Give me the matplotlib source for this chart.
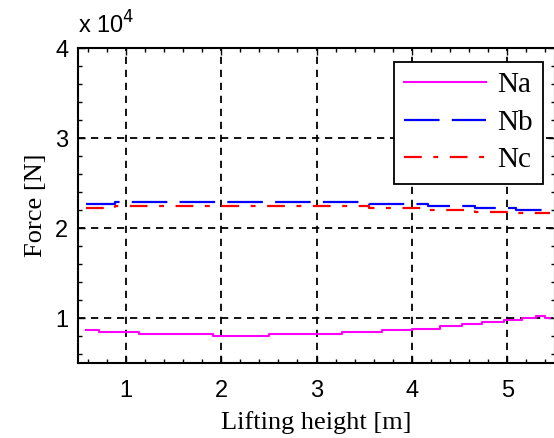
import numpy as np
import matplotlib.pyplot as plt
from matplotlib.ticker import MultipleLocator, FuncFormatter

## step data (force in N)
x_na = [0.58, 0.72, 1.14, 1.91, 2.50, 3.27, 3.69, 4.00, 4.29, 4.53, 4.74, 4.97, 5.15, 5.30, 5.39, 5.45]
na = [8670, 8450, 8200, 8000, 8200, 8400, 8670, 8800, 9080, 9300, 9550, 9780, 10000, 10200, 10000, 10000]

x_nb = [0.58, 0.89, 3.55, 4.17, 4.66, 5.09, 5.45]
nb = [22640, 22930, 22640, 22450, 22200, 22000, 22000]

x_nc = [0.58, 0.89, 3.55, 4.10, 4.66, 5.09, 5.45]
nc = [22270, 22450, 22200, 22000, 21800, 21650, 21650]

labels = ['Na', 'Nb', 'Nc']

plt.rcParams['font.family'] = ['Liberation Sans', 'DejaVu Sans']

fig = plt.figure(figsize=(5.54, 4.38), dpi=100)
ax = fig.add_axes([0.1408, 0.1712, 0.861, 0.7192])

ax.plot(x_na, na, color='#ff00ff', lw=1.5, drawstyle='steps-post', label=labels[0])
ax.plot(x_nb, nb, color='#0000ff', lw=1.6, drawstyle='steps-post', label=labels[1],
        dashes=(16, 5.5))
ax.plot(x_nc, nc, color='#ff0000', lw=1.6, drawstyle='steps-post', label=labels[2],
        dashes=(8, 5.2, 2.2, 5.2))

ax.set_xlim(0.5, 5.5)
ax.set_ylim(5000, 40000)
ax.xaxis.set_major_locator(MultipleLocator(1))
ax.xaxis.set_minor_locator(MultipleLocator(0.2))
ax.yaxis.set_major_locator(MultipleLocator(10000))
ax.yaxis.set_minor_locator(MultipleLocator(2000))
ax.yaxis.set_major_formatter(FuncFormatter(lambda v, p: '%d' % round(v / 1e4)))

ax.tick_params(which='both', direction='in', top=True, right=True, labelsize=17)
ax.tick_params(which='major', length=5, width=1)
ax.tick_params(which='minor', length=3, width=1)
ax.tick_params(axis='x', pad=12)
ax.tick_params(axis='y', pad=7)
for s in ax.spines.values():
    s.set_linewidth(1.5)

ax.grid(True, which='major', color='black', linestyle=(0, (4, 3.2)), linewidth=1.3)
ax.set_axisbelow(True)

ax.set_xlabel('Lifting height [m]', fontsize=19, family='Liberation Serif', labelpad=7)
ax.set_ylabel('Force [N]', fontsize=19, family='Liberation Serif', labelpad=6)

ax.text(0.0, 1.03, r'x 10$^{4}$', transform=ax.transAxes, fontsize=17, ha='left', va='bottom')

leg = ax.legend(loc='upper right', bbox_to_anchor=(0.975, 0.956), borderaxespad=0,
                fancybox=False, framealpha=1, edgecolor='black', handlelength=2.8,
                borderpad=0.35, labelspacing=0.38, handletextpad=0.4,
                prop={'family': 'Liberation Serif', 'size': 21})
leg.get_frame().set_linewidth(1.3)

fig.savefig('out.png', dpi=100)
